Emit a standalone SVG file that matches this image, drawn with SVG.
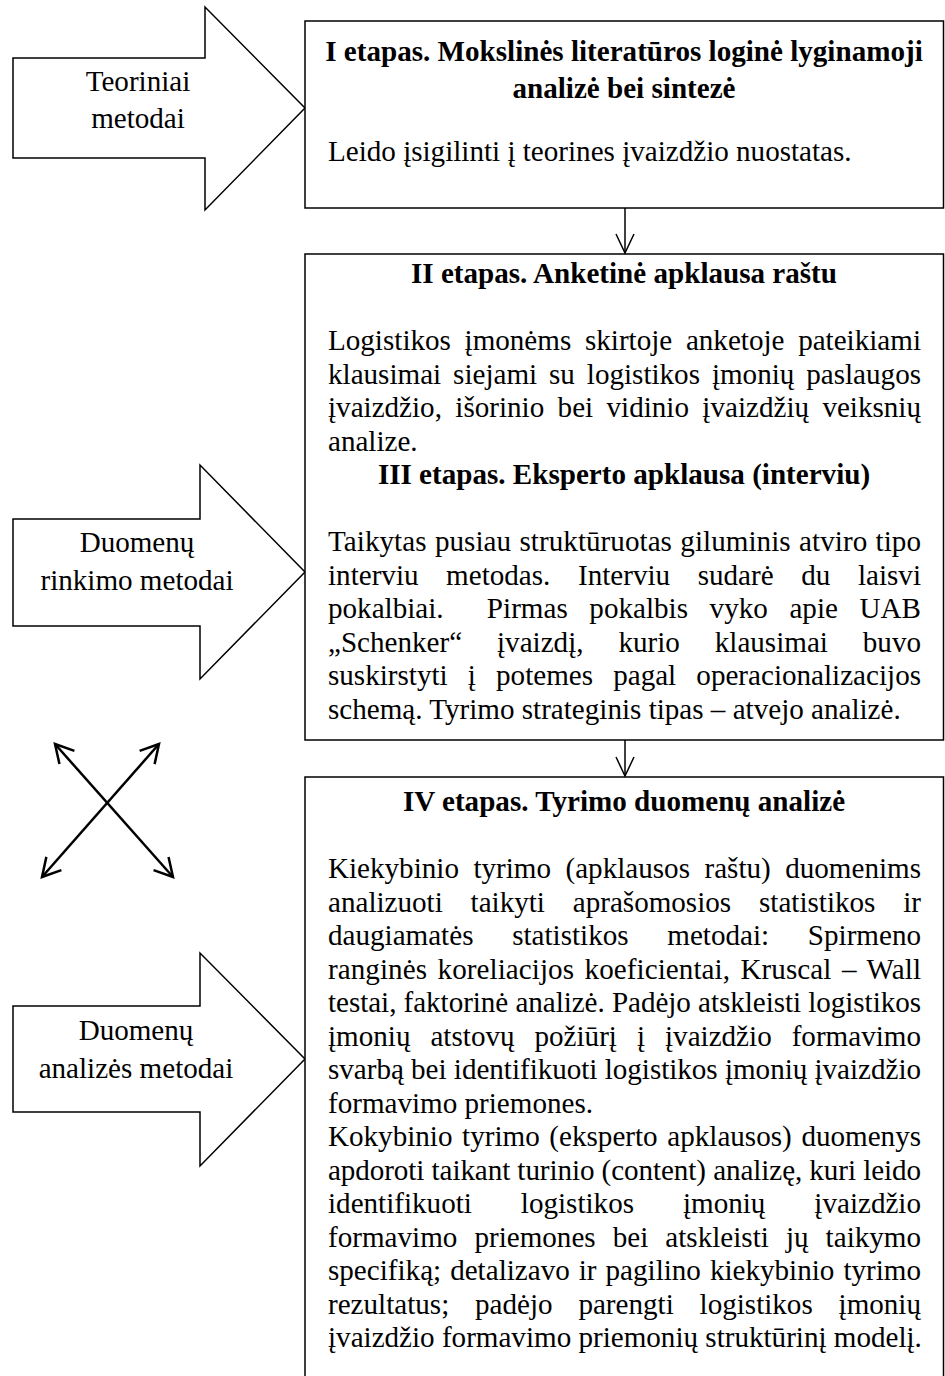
<svg xmlns="http://www.w3.org/2000/svg" width="945" height="1376" viewBox="0 0 945 1376">
<style>
  .shape{fill:#fff;stroke:#000;stroke-width:1.5;stroke-linejoin:miter}
  text{font-family:"Liberation Serif","Times New Roman",serif;font-size:29.1px;fill:#000}
  .h{font-weight:bold;text-anchor:middle}
  .lbl{text-anchor:middle}
  .conn{stroke:#000;stroke-width:1.5;fill:none}
  .cross{stroke:#000;stroke-width:2.5;fill:none}
</style>
<defs>
  <marker id="vhead" markerUnits="userSpaceOnUse" viewBox="-22 -12 24 24" markerWidth="24" markerHeight="24" refX="0" refY="0" orient="auto">
    <path d="M-19,-9 L0,0 L-19,9" fill="none" stroke="#000" stroke-width="1.5"/>
  </marker>
  <marker id="xhead" markerUnits="userSpaceOnUse" viewBox="-24 -14 28 28" markerWidth="28" markerHeight="28" refX="0" refY="0" orient="auto-start-reverse">
    <path d="M-18,-10 L0,0 L-18,10" fill="none" stroke="#000" stroke-width="2.5"/>
  </marker>
</defs>

<!-- method arrows on the left -->
<g id="arrow-theory">
  <path class="shape" d="M13,58 H205 V7 L305,108 L205,210 V158 H13 Z"/>
  <text class="lbl" x="138" y="91">Teoriniai</text>
  <text class="lbl" x="138" y="128">metodai</text>
</g>
<g id="arrow-collection">
  <path class="shape" d="M13,519 H200 V465 L305,572 L200,679 V626 H13 Z"/>
  <text class="lbl" x="137" y="552">Duomenų</text>
  <text class="lbl" x="137" y="590">rinkimo metodai</text>
</g>
<g id="arrow-analysis">
  <path class="shape" d="M13,1006 H200 V953 L305,1059 L200,1166 V1112 H13 Z"/>
  <text class="lbl" x="136" y="1040">Duomenų</text>
  <text class="lbl" x="136" y="1078">analizės metodai</text>
</g>

<!-- stage I -->
<g id="stage-1">
  <rect class="shape" x="305" y="21" width="638.5" height="187"/>
  <text class="h" x="624" y="61">I etapas. Mokslinės literatūros loginė lyginamoji</text>
  <text class="h" x="624" y="98">analizė bei sintezė</text>
  <text x="328" y="161">Leido įsigilinti į teorines įvaizdžio nuostatas.</text>
</g>

<!-- stages II and III -->
<g id="stage-2-3">
  <rect class="shape" x="305" y="254" width="638.5" height="486"/>
  <text class="h" x="624" y="283">II etapas. Anketinė apklausa raštu</text>
  <text x="328" y="350" textLength="593" lengthAdjust="spacing" style="word-spacing:6.39px">Logistikos įmonėms skirtoje anketoje pateikiami</text>
  <text x="328" y="383.5" textLength="593" lengthAdjust="spacing" style="word-spacing:4.62px">klausimai siejami su logistikos įmonių paslaugos</text>
  <text x="328" y="417" textLength="593" lengthAdjust="spacing" style="word-spacing:6.09px">įvaizdžio, išorinio bei vidinio įvaizdžių veiksnių</text>
  <text x="328" y="450.5">analize.</text>
  <text class="h" x="624" y="484">III etapas. Eksperto apklausa (interviu)</text>
  <text x="328" y="551" textLength="593" lengthAdjust="spacing" style="word-spacing:1.07px">Taikytas pusiau struktūruotas giluminis atviro tipo</text>
  <text x="328" y="584.5" textLength="593" lengthAdjust="spacing" style="word-spacing:20.33px">interviu metodas. Interviu sudarė du laisvi</text>
  <text x="328" y="618" textLength="593" lengthAdjust="spacing" style="word-spacing:14.36px;white-space:pre">pokalbiai.  Pirmas pokalbis vyko apie UAB</text>
  <text x="328" y="651.5" textLength="593" lengthAdjust="spacing" style="word-spacing:27.63px">„Schenker“ įvaizdį, kurio klausimai buvo</text>
  <text x="328" y="685" textLength="593" lengthAdjust="spacing" style="word-spacing:12.87px">suskirstyti į potemes pagal operacionalizacijos</text>
  <text x="328" y="718.5">schemą. Tyrimo strateginis tipas – atvejo analizė.</text>
</g>

<!-- stage IV -->
<g id="stage-4">
  <path class="shape" d="M305,1380 V777 H943.5 V1380"/>
  <text class="h" x="624" y="811">IV etapas. Tyrimo duomenų analizė</text>
  <text x="328" y="878" textLength="593" lengthAdjust="spacing" style="word-spacing:7.2px">Kiekybinio tyrimo (apklausos raštu) duomenims</text>
  <text x="328" y="911.5" textLength="593" lengthAdjust="spacing" style="word-spacing:20.53px">analizuoti taikyti aprašomosios statistikos ir</text>
  <text x="328" y="945" textLength="593" lengthAdjust="spacing" style="word-spacing:31.42px">daugiamatės statistikos metodai: Spirmeno</text>
  <text x="328" y="978.5" textLength="593" lengthAdjust="spacing" style="word-spacing:3.2px">ranginės koreliacijos koeficientai, Kruscal – Wall</text>
  <text x="328" y="1012" textLength="593" lengthAdjust="spacing">testai, faktorinė analizė. Padėjo atskleisti logistikos</text>
  <text x="328" y="1045.5" textLength="593" lengthAdjust="spacing" style="word-spacing:12.71px">įmonių atstovų požiūrį į įvaizdžio formavimo</text>
  <text x="328" y="1079" textLength="593" lengthAdjust="spacing">svarbą bei identifikuoti logistikos įmonių įvaizdžio</text>
  <text x="328" y="1112.5">formavimo priemones.</text>
  <text x="328" y="1146" textLength="593" lengthAdjust="spacing" style="word-spacing:2.35px">Kokybinio tyrimo (eksperto apklausos) duomenys</text>
  <text x="328" y="1179.5" textLength="593" lengthAdjust="spacing">apdoroti taikant turinio (content) analizę, kuri leido</text>
  <text x="328" y="1213" textLength="593" lengthAdjust="spacing" style="word-spacing:41.66px">identifikuoti logistikos įmonių įvaizdžio</text>
  <text x="328" y="1246.5" textLength="593" lengthAdjust="spacing" style="word-spacing:9.8px">formavimo priemones bei atskleisti jų taikymo</text>
  <text x="328" y="1280" textLength="593" lengthAdjust="spacing" style="word-spacing:1.73px">specifiką; detalizavo ir pagilino kiekybinio tyrimo</text>
  <text x="328" y="1313.5" textLength="593" lengthAdjust="spacing" style="word-spacing:18.53px">rezultatus; padėjo parengti logistikos įmonių</text>
  <text x="328" y="1347">įvaizdžio formavimo priemonių struktūrinį modelį.</text>
</g>

<!-- connectors -->
<g id="connectors">
  <line class="conn" x1="625" y1="208" x2="625" y2="253" marker-end="url(#vhead)"/>
  <line class="conn" x1="625" y1="740" x2="625" y2="776" marker-end="url(#vhead)"/>
  <line class="cross" x1="55" y1="744" x2="173" y2="877" marker-start="url(#xhead)" marker-end="url(#xhead)"/>
  <line class="cross" x1="159" y1="744" x2="42" y2="877" marker-start="url(#xhead)" marker-end="url(#xhead)"/>
</g>
</svg>
